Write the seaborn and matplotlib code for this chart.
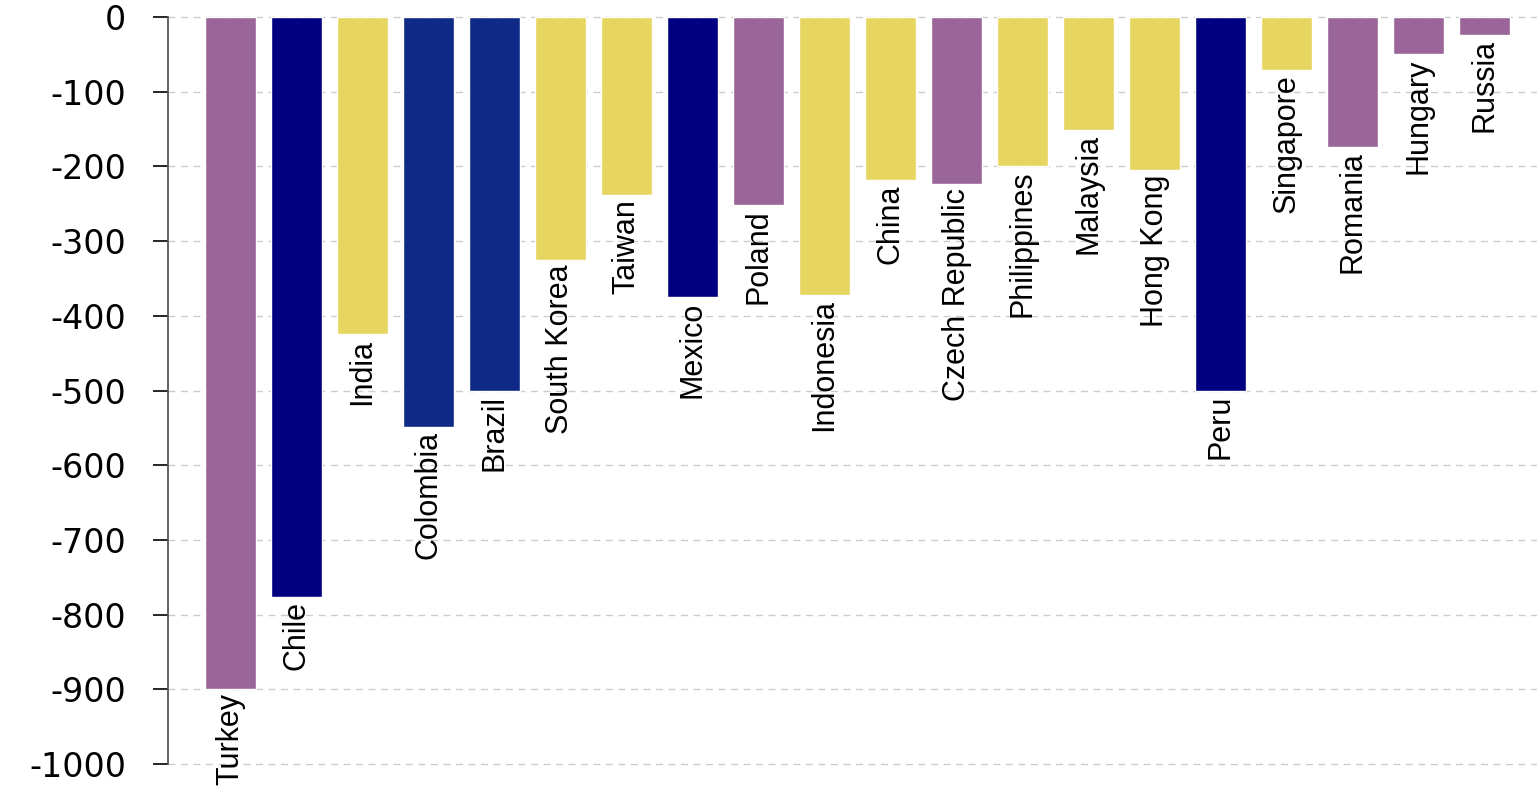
import matplotlib
matplotlib.use("Agg")
import matplotlib.pyplot as plt
import seaborn as sns
import pandas as pd

countries = ["Turkey", "Chile", "India", "Colombia", "Brazil", "South Korea",
             "Taiwan", "Mexico", "Poland", "Indonesia", "China", "Czech Republic",
             "Philippines", "Malaysia", "Hong Kong", "Peru", "Singapore",
             "Romania", "Hungary", "Russia"]
values = [-900, -776, -425, -549, -500, -325, -238, -375, -252, -372,
          -218, -224, -200, -151, -205, -500, -71, -174, -50, -24]
groups = ["EMEA", "LatAm", "Asia", "LatAm2", "LatAm2", "Asia",
          "Asia", "LatAm", "EMEA", "Asia", "Asia", "EMEA",
          "Asia", "Asia", "Asia", "LatAm", "Asia", "EMEA", "EMEA", "EMEA"]
group_colors = {"EMEA": "#9a6598", "LatAm": "#000080",
                "LatAm2": "#0e2a86", "Asia": "#e6d661"}
yticks = list(range(0, -1001, -100))

df = pd.DataFrame({"country": countries, "value": values, "group": groups})
palette = {c: group_colors[g] for c, g in zip(countries, groups)}

sns.set_theme(style="white")
fig = plt.figure(figsize=(15.37, 7.91), dpi=100)
ax = fig.add_axes([168 / 1537, 27 / 791, 1 - 168 / 1537, (764 - 17) / 791])

sns.barplot(data=df, x="country", y="value", hue="country", palette=palette,
            width=0.77, saturation=1, legend=False, ax=ax, zorder=2)

# country names hang below each bar's end
for i, (name, v) in enumerate(zip(countries, values)):
    ax.annotate(name, xy=(i, v), xytext=(0, -3), textcoords="offset points",
                rotation=90, ha="center", va="top", fontsize=22,
                family=["Liberation Sans", "DejaVu Sans"], color="black",
                annotation_clip=False)

ax.set_ylim(-1000, 0)
ax.set_xlim(-0.94, 19.79)
ax.set_yticks(yticks)
ax.set_yticklabels([str(t) for t in yticks], fontsize=24,
                   family="DejaVu Sans", color="black")
ax.set_xticks([])
ax.set_xlabel("")
ax.set_ylabel("")

ax.yaxis.grid(True, color="#cccccc", linestyle=(0, (5, 4)), linewidth=1, zorder=0)
ax.xaxis.grid(False)
ax.set_axisbelow(True)
for gl in ax.get_ygridlines():
    gl.set_clip_on(False)

for side in ["top", "right", "bottom"]:
    ax.spines[side].set_visible(False)
ax.spines["left"].set_color("#555555")
ax.spines["left"].set_linewidth(1.3)
ax.tick_params(axis="y", which="major", left=True, length=11, width=1.2,
               color="black", pad=19)

fig.savefig("out.png", dpi=100)
